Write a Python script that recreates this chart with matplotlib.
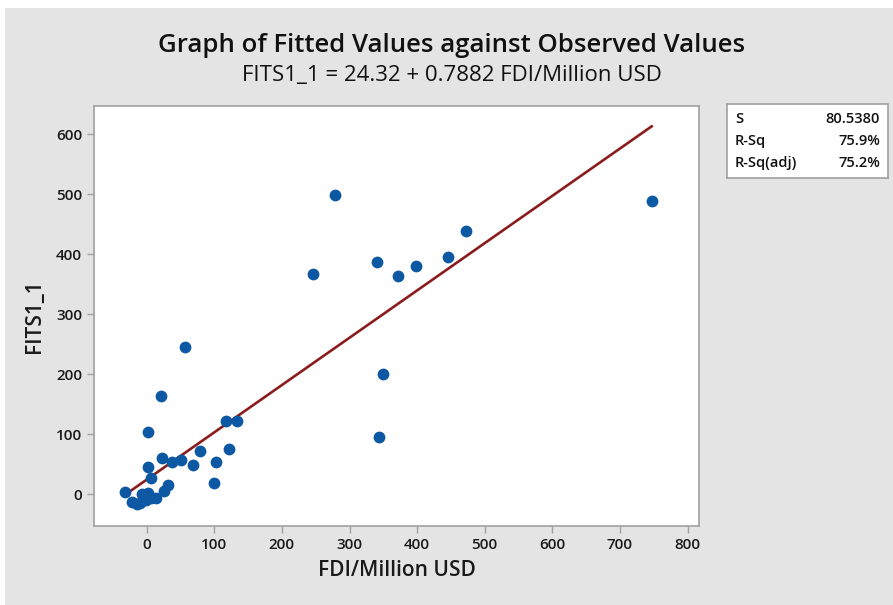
import numpy as np
import matplotlib.pyplot as plt
from matplotlib.patches import Rectangle

plt.rcParams['font.family'] = ['Open Sans', 'DejaVu Sans']

# observed FDI (x) and fitted values FITS1_1 (y)
fdi = [278, 747, 473, 445, 341, 398, 372, 246, 56, 349, 21, 344, 2, 117, 133,
       79, 121, 23, 37, 50, 103, 68, 2.5, 6.6, 100, 32, 26, -32,
       -22, -15, -9.5, -4, 2, -1, 6.6, 13.5, -6.6]
fits = [498, 488, 438, 396, 387, 381, 364, 367, 246, 201, 164, 96, 103, 122, 122,
        72, 75, 61, 54, 57, 54, 48, 46, 27, 19, 15, 6, 4,
        -13, -16, -15, -4, 2, -10, -6, -7, 1]

intercept = 24.32
slope = 0.7882
stat_names = ['S', 'R-Sq', 'R-Sq(adj)']
stat_values = ['80.5380', '75.9%', '75.2%']

fig = plt.figure(figsize=(8.93, 6.05), dpi=100, facecolor='white')
fig.patches.append(Rectangle((5 / 893, 0), 1, 1 - 8 / 605, transform=fig.transFigure,
                             facecolor='#e4e4e4', edgecolor='none', zorder=-10))

ax = fig.add_axes([94 / 893, 1 - 526 / 605, 605 / 893, 420 / 605])
ax.set_facecolor('white')

xl = np.array([-24, max(fdi)])
ax.plot(xl, intercept + slope * xl, color='#8b1c1c', linewidth=1.9, zorder=2)
ax.scatter(fdi, fits, s=72, color='#0d58a2', zorder=3, linewidths=0)

ax.set_xlim(-78, 817)
ax.set_ylim(-53, 647)
ax.set_xticks(range(0, 801, 100))
ax.set_yticks(range(0, 601, 100))
for sp in ax.spines.values():
    sp.set_color('#a0a0a0')
    sp.set_linewidth(1.2)
ax.tick_params(direction='out', color='#a0a0a0', length=5, width=1,
               labelsize=11, labelcolor='#1a1a1a')
for lb in ax.get_xticklabels() + ax.get_yticklabels():
    lb.set_fontweight('semibold')

ax.set_xlabel('FDI/Million USD', fontsize=15, fontweight='semibold',
              color='#1a1a1a', labelpad=6)
ax.set_ylabel('FITS1_1', fontsize=15, fontweight='semibold',
              color='#1a1a1a', labelpad=8)

fig.text(452 / 893, 1 - 46 / 605, 'Graph of Fitted Values against Observed Values',
         ha='center', va='center', fontsize=18.5, fontweight='semibold', color='#111111')
fig.text(452 / 893, 1 - 76 / 605, 'FITS1_1 = 24.32 + 0.7882 FDI/Million USD',
         ha='center', va='center', fontsize=16, color='#111111')

# summary box
box = fig.add_axes([727 / 893, 1 - 178 / 605, 161 / 893, 74 / 605])
box.set_xticks([])
box.set_yticks([])
for sp in box.spines.values():
    sp.set_color('#a0a0a0')
    sp.set_linewidth(1.2)
for i, (n, v) in enumerate(zip(stat_names, stat_values)):
    yy = 0.8 - i * 0.3
    box.text(0.05, yy, n, ha='left', va='center', fontsize=10.5, fontweight='semibold',
             color='#111111', transform=box.transAxes)
    box.text(0.95, yy, v, ha='right', va='center', fontsize=10.5, fontweight='semibold',
             color='#111111', transform=box.transAxes)

fig.savefig('out.png', dpi=100, facecolor=fig.get_facecolor())
